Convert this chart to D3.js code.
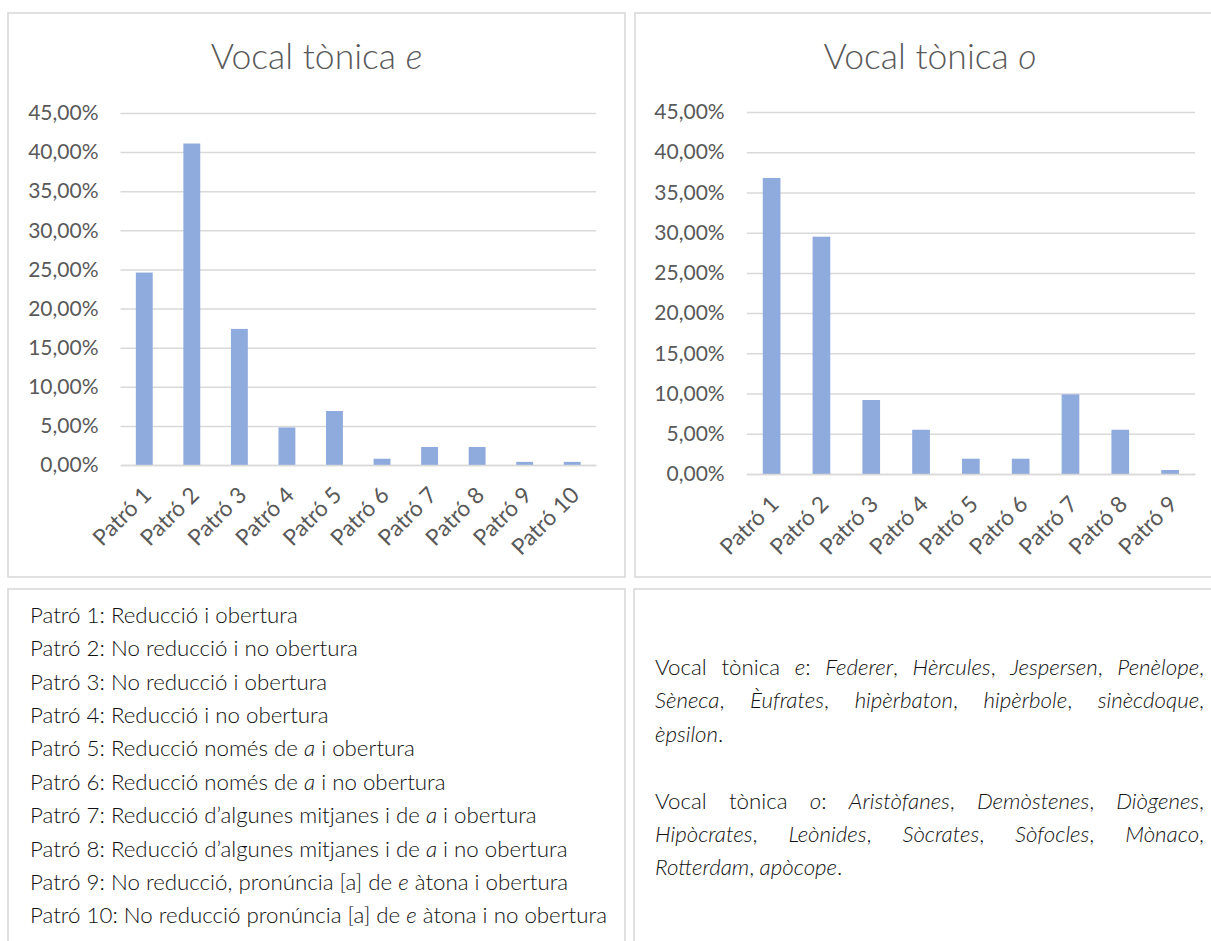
<!DOCTYPE html>
<html><head><meta charset="utf-8">
<script src="https://cdn.jsdelivr.net/npm/d3@7"></script>
<style>
body{margin:0;background:#fff}
svg{display:block;font-family:Lato,"Open Sans",sans-serif}
</style>
</head><body>
<svg id="c" width="1211" height="941"></svg>
<script>
// ---------- data ----------
const categoriesE = ["Patró 1","Patró 2","Patró 3","Patró 4","Patró 5","Patró 6","Patró 7","Patró 8","Patró 9","Patró 10"];
const valuesE = [0.246, 0.411, 0.174, 0.048, 0.069, 0.008, 0.023, 0.023, 0.004, 0.004];
const categoriesO = ["Patró 1","Patró 2","Patró 3","Patró 4","Patró 5","Patró 6","Patró 7","Patró 8","Patró 9"];
const valuesO = [0.368, 0.295, 0.092, 0.055, 0.019, 0.019, 0.099, 0.055, 0.005];
const yTicks = [0, 0.05, 0.10, 0.15, 0.20, 0.25, 0.30, 0.35, 0.40, 0.45];
const titleE = ["Vocal tònica ", "e"];
const titleO = ["Vocal tònica ", "o"];
const legendLines = [
  "Patró 1: Reducció i obertura",
  "Patró 2: No reducció i no obertura",
  "Patró 3: No reducció i obertura",
  "Patró 4: Reducció i no obertura",
  "Patró 5: Reducció només de *a* i obertura",
  "Patró 6: Reducció només de *a* i no obertura",
  "Patró 7: Reducció d’algunes mitjanes i de *a* i obertura",
  "Patró 8: Reducció d’algunes mitjanes i de *a* i no obertura",
  "Patró 9: No reducció, pronúncia [a] de *e* àtona i obertura",
  "Patró 10: No reducció pronúncia [a] de *e* àtona i no obertura"
];
const exampleLines = [
  "Vocal tònica *e*: *Federer*, *Hèrcules*, *Jespersen*, *Penèlope*,",
  "*Sèneca*, *Èufrates*, *hipèrbaton*, *hipèrbole*, *sinècdoque*,",
  "*èpsilon*.",
  "",
  "Vocal tònica *o*: *Aristòfanes*, *Demòstenes*, *Diògenes*,",
  "*Hipòcrates*, *Leònides*, *Sòcrates*, *Sòfocles*, *Mònaco*,",
  "*Rotterdam*, *apòcope*."
];

// ---------- style ----------
const BAR = "#8faadc", GRID = "#d9d9d9", BORDER = "#d9d9d9", TXT = "#595959", BODY = "#111111";
const svg = d3.select("#c");
const loc = d3.formatLocale({decimal: ",", thousands: ".", grouping: [3], currency: ["", "€"], percent: "%"});
const fmt = loc.format(".2%");

// boxes
const boxes = [
  {x: 8, y: 13, w: 617, h: 564},
  {x: 635, y: 13, w: 600, h: 564},
  {x: 8, y: 589, w: 617, h: 380},
  {x: 634, y: 589, w: 600, h: 380}
];
svg.selectAll("rect.box").data(boxes).join("rect").attr("class", "box")
  .attr("x", d => d.x).attr("y", d => d.y).attr("width", d => d.w).attr("height", d => d.h)
  .attr("fill", "#fff").attr("stroke", BORDER).attr("stroke-width", 1.6);

function parseSegs(s) {
  return s.split("*").map((t, i) => ({t, it: i % 2 === 1})).filter(d => d.t.length);
}

function drawChart(cfg) {
  const g = svg.append("g");
  const x = d3.scaleBand().domain(cfg.cats).range([cfg.x0, cfg.x1]).paddingInner(0.645).paddingOuter(0.3225);
  const y = d3.scaleLinear().domain([0, 0.45]).range([cfg.y0, cfg.y1]);

  // title
  const t = g.append("text").attr("x", cfg.cx).attr("y", 69).attr("text-anchor", "middle")
    .attr("fill", TXT).attr("font-size", 35.5).attr("font-weight", 300);
  t.append("tspan").text(cfg.title[0]);
  t.append("tspan").attr("font-style", "italic").text(cfg.title[1]);

  // y axis with gridlines
  const ya = g.append("g").attr("transform", `translate(${cfg.x0},0)`)
    .call(d3.axisLeft(y).tickValues(yTicks).tickFormat(fmt).tickSize(-(cfg.x1 - cfg.x0)).tickPadding(22));
  ya.select(".domain").remove();
  ya.selectAll(".tick line").attr("stroke", GRID).attr("stroke-width", 1.5);
  ya.selectAll(".tick text").attr("fill", TXT).attr("font-size", 21).attr("font-family", "Lato, sans-serif");

  // bars
  g.append("g").selectAll("rect").data(cfg.vals).join("rect")
    .attr("x", (d, i) => x(cfg.cats[i])).attr("width", x.bandwidth())
    .attr("y", d => y(d)).attr("height", d => y(0) - y(d)).attr("fill", BAR);

  // x axis
  const xa = g.append("g").attr("transform", `translate(0,${cfg.y0})`)
    .call(d3.axisBottom(x).tickSize(0).tickPadding(0));
  xa.select(".domain").attr("stroke", GRID).attr("stroke-width", 1.5);
  xa.selectAll(".tick text").attr("fill", TXT).attr("font-size", 22.5).attr("font-family", "Lato, sans-serif")
    .attr("text-anchor", "end").attr("x", 0).attr("y", 0).attr("dy", "0.35em")
    .attr("transform", "translate(3,26) rotate(-45)");
}

drawChart({cats: categoriesE, vals: valuesE, x0: 120.5, x1: 596, y0: 465, y1: 113, cx: 316.5, title: titleE});
drawChart({cats: categoriesO, vals: valuesO, x0: 746.7, x1: 1195, y0: 474, y1: 112, cx: 930, title: titleO});

// legend text
const lg = svg.append("g").attr("fill", BODY).attr("font-size", 22.3).attr("font-weight", 300);
legendLines.forEach((line, i) => {
  const t = lg.append("text").attr("x", 30).attr("y", 622.7 + i * 33.4);
  parseSegs(line).forEach(s => t.append("tspan").attr("font-style", s.it ? "italic" : null).text(s.t));
});

// justified examples
const eg = svg.append("g").attr("fill", BODY).attr("font-size", 22.3).attr("font-weight", 300);
const jx0 = 655, jx1 = 1204;
let base = 675;
exampleLines.forEach((line, li) => {
  if (!line) { base += 33.4; return; }
  const last = li === exampleLines.length - 1 || !exampleLines[li + 1];
  let ital = false;
  const toks = line.split(" ").map(w => {
    const segs = [];
    w.split("*").forEach((p, k) => { if (k > 0) ital = !ital; if (p) segs.push({t: p, it: ital}); });
    return segs;
  });
  const nodes = toks.map(segs => {
    const t = eg.append("text").attr("y", base);
    segs.forEach(s => t.append("tspan").attr("font-style", s.it ? "italic" : null).text(s.t));
    return t;
  });
  const widths = nodes.map(n => n.node().getComputedTextLength());
  const sum = d3.sum(widths);
  const spaceW = 5.5;
  const gap = last || nodes.length < 2 ? spaceW : (jx1 - jx0 - sum) / (nodes.length - 1);
  let cx = jx0;
  nodes.forEach((n, k) => { n.attr("x", cx); cx += widths[k] + gap; });
  base += 33.4;
});
</script>
</body></html>
